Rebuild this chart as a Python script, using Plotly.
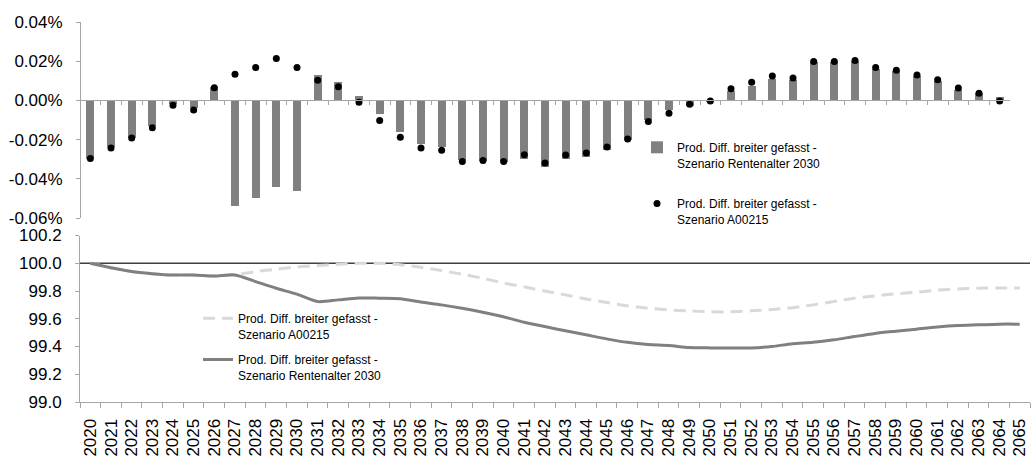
import plotly.graph_objects as go

# Years for the annual-difference panel (top) and the index panel (bottom)
years_top = ["2020", "2021", "2022", "2023", "2024", "2025", "2026", "2027", "2028", "2029",
             "2030", "2031", "2032", "2033", "2034", "2035", "2036", "2037", "2038", "2039",
             "2040", "2041", "2042", "2043", "2044", "2045", "2046", "2047", "2048", "2049",
             "2050", "2051", "2052", "2053", "2054", "2055", "2056", "2057", "2058", "2059",
             "2060", "2061", "2062", "2063", "2064"]
years = years_top + ["2065"]

# Annual productivity difference in percent
diff_rente_2030 = [-0.030, -0.024, -0.019, -0.013, -0.002, -0.004, 0.007, -0.054, -0.050, -0.044,
                   -0.046, 0.013, 0.0095, 0.002, -0.007, -0.016, -0.022, -0.024, -0.0305, -0.031,
                   -0.0315, -0.030, -0.034, -0.030, -0.029, -0.0255, -0.020, -0.010, -0.005, -0.003,
                   -0.001, 0.005, 0.0075, 0.011, 0.0105, 0.0195, 0.0195, 0.020, 0.016, 0.015,
                   0.0125, 0.010, 0.0055, 0.004, 0.0015]
diff_a00215 = [-0.0296, -0.0243, -0.0192, -0.0139, -0.0025, -0.0049, 0.0065, 0.0134, 0.0168, 0.0214,
               0.0168, 0.0103, 0.0070, -0.0009, -0.0103, -0.0188, -0.0243, -0.0254, -0.0312, -0.0307,
               -0.0312, -0.0277, -0.0319, -0.0278, -0.0268, -0.0238, -0.0197, -0.0108, -0.0066, -0.0020,
               -0.0003, 0.0060, 0.0093, 0.0124, 0.0114, 0.0198, 0.0198, 0.0204, 0.0168, 0.0154,
               0.0129, 0.0105, 0.0063, 0.0036, -0.0003]

# Productivity index (2020 = 100)
idx_a00215 = [100.0, 99.968, 99.94, 99.925, 99.915, 99.915, 99.908, 99.916, 99.94, 99.957,
              99.973, 99.983, 99.993, 100.0, 100.0, 99.99, 99.971, 99.947, 99.921, 99.892,
              99.858, 99.83, 99.80, 99.772, 99.743, 99.717, 99.693, 99.676, 99.664, 99.657,
              99.65, 99.65, 99.657, 99.666, 99.68, 99.70, 99.724, 99.748, 99.765, 99.78,
              99.791, 99.806, 99.815, 99.82, 99.822, 99.822]
idx_rente_2030 = [100.0, 99.968, 99.94, 99.925, 99.915, 99.915, 99.908, 99.916, 99.868, 99.82,
                  99.777, 99.724, 99.736, 99.75, 99.748, 99.744, 99.72, 99.70, 99.676, 99.647,
                  99.614, 99.575, 99.544, 99.513, 99.484, 99.455, 99.43, 99.414, 99.407, 99.393,
                  99.39, 99.39, 99.39, 99.40, 99.42, 99.43, 99.448, 99.472, 99.494, 99.51,
                  99.525, 99.54, 99.551, 99.556, 99.561, 99.561]

top_ticks = [-0.06, -0.04, -0.02, 0.0, 0.02, 0.04]
top_ticktext = ["-0.06%", "-0.04%", "-0.02%", "0.00%", "0.02%", "0.04%"]
bottom_ticks = [99.0, 99.2, 99.4, 99.6, 99.8, 100.0, 100.2]

W, H = 1032, 457
FONT = "Liberation Sans, Arial, sans-serif"
AXIS_GREY = "#a6a6a6"

def px_x(p):
    return p / W

def px_y(p):
    return (H - p) / H

top_dom = [px_y(218), px_y(22)]
top_range = [-0.06, 0.04]
zero_pos = top_dom[0] + (0 - top_range[0]) / (top_range[1] - top_range[0]) * (top_dom[1] - top_dom[0])

fig = go.Figure()

fig.add_trace(go.Bar(
    x=years_top, y=diff_rente_2030, xaxis="x", yaxis="y",
    name="Prod. Diff. breiter gefasst -<br>Szenario Rentenalter 2030",
    marker=dict(color="#808080", line=dict(width=0)), width=0.38,
    legend="legend", legendgroup="a",
))
fig.add_trace(go.Scatter(
    x=years_top, y=diff_a00215, xaxis="x", yaxis="y", mode="markers",
    name="Prod. Diff. breiter gefasst -<br>Szenario A00215",
    marker=dict(color="#000000", size=7, symbol="circle"),
    legend="legend", legendgroup="b",
))

fig.add_trace(go.Scatter(
    x=years, y=idx_a00215, xaxis="x2", yaxis="y2", mode="lines",
    name="Prod. Diff. breiter gefasst -<br>Szenario A00215",
    line=dict(color="#d9d9d9", width=3, dash="12px,7px", shape="spline", smoothing=0.8),
    legend="legend2", legendgroup="c",
))
fig.add_trace(go.Scatter(
    x=years, y=idx_rente_2030, xaxis="x2", yaxis="y2", mode="lines",
    name="Prod. Diff. breiter gefasst -<br>Szenario Rentenalter 2030",
    line=dict(color="#808080", width=3, shape="spline", smoothing=0.8),
    legend="legend2", legendgroup="d",
))

# Reference line at index level 100
fig.add_shape(type="line", xref="x2 domain", yref="y2", x0=0, x1=1, y0=100, y1=100,
              line=dict(color="#404040", width=1.5), layer="below")

tick_font = dict(family=FONT, size=17, color="#000000")
legend_font = dict(family=FONT, size=12, color="#000000")

fig.update_layout(
    width=W, height=H,
    margin=dict(l=0, r=0, t=0, b=0, autoexpand=False),
    paper_bgcolor="white", plot_bgcolor="white",
    showlegend=True,
    bargap=0,
    xaxis=dict(
        type="category", domain=[px_x(80), px_x(1010)], range=[-0.5, 44.5],
        anchor="free", position=zero_pos, side="bottom", automargin=False,
        showline=True, linecolor=AXIS_GREY, linewidth=1,
        ticks="outside", ticklen=4, tickcolor=AXIS_GREY, tickson="boundaries",
        showticklabels=False, showgrid=False, zeroline=False, fixedrange=True,
    ),
    yaxis=dict(
        domain=top_dom, range=top_range, anchor="free", position=px_x(80), automargin=False,
        tickvals=top_ticks, ticktext=top_ticktext, tickfont=tick_font,
        showline=True, linecolor=AXIS_GREY, linewidth=1,
        ticks="outside", ticklen=4, tickcolor=AXIS_GREY, ticklabelstandoff=10,
        showgrid=False, zeroline=False,
    ),
    xaxis2=dict(
        type="category", domain=[px_x(80), px_x(1030)], range=[-0.5, 45.5],
        anchor="y2", automargin=False, showline=True, linecolor=AXIS_GREY, linewidth=1,
        ticks="outside", ticklen=5, tickcolor=AXIS_GREY, tickson="boundaries",
        tickangle=-90, tickfont=tick_font, ticklabelstandoff=9,
        showgrid=False, zeroline=False,
    ),
    yaxis2=dict(
        domain=[px_y(402), px_y(235.5)], range=[99.0, 100.2], anchor="x2", automargin=False,
        tickvals=bottom_ticks, tickformat=".1f", tickfont=tick_font,
        showline=True, linecolor=AXIS_GREY, linewidth=1,
        ticks="outside", ticklen=4, tickcolor=AXIS_GREY, ticklabelstandoff=10,
        showgrid=False, zeroline=False,
    ),
    legend=dict(
        x=px_x(637), y=px_y(133), xanchor="left", yanchor="top",
        font=legend_font, bgcolor="rgba(0,0,0,0)", traceorder="grouped",
        tracegroupgap=22, valign="top", itemclick=False, itemdoubleclick=False,
    ),
    legend2=dict(
        x=px_x(198), y=px_y(304), xanchor="left", yanchor="top",
        font=legend_font, bgcolor="rgba(0,0,0,0)", traceorder="grouped",
        tracegroupgap=7, valign="top", itemclick=False, itemdoubleclick=False,
    ),
)

fig.write_html("out.html")
